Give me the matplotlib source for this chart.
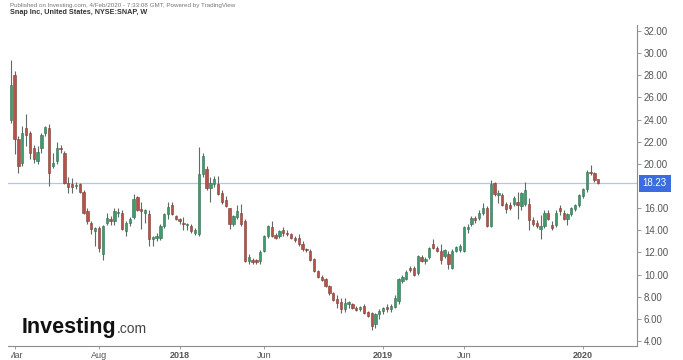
import numpy as np
import pandas as pd
import matplotlib
matplotlib.use('Agg')
import matplotlib.pyplot as plt
import matplotlib.transforms as mtrans

plt.rcParams['font.family'] = ['Liberation Sans', 'DejaVu Sans']

# weekly SNAP candles
weeks = pd.date_range('2017-02-27', periods=154, freq='W-MON')

opens = [24.0, 28.0, 22.2, 20.1, 23.2, 22.8, 21.4, 20.3, 21.4, 22.8,
         23.2, 19.8, 20.3, 21.4, 21.0, 18.3, 18.2, 18.0, 18.2, 17.5,
         15.7, 14.7, 13.9, 14.2, 11.9, 14.7, 15.0, 14.8, 15.6, 15.6,
         13.9, 14.7, 15.2, 17.0, 15.9, 15.6, 15.5, 13.2, 13.3, 13.3,
         14.4, 15.5, 16.3, 15.3, 15.0, 14.7, 14.5, 14.4, 13.8, 13.7,
         19.1, 19.5, 17.8, 18.2, 18.2, 17.4, 16.7, 16.0, 14.6, 15.2,
         15.6, 14.8, 11.2, 11.3, 11.3, 11.2, 12.1, 13.5, 14.3, 13.6,
         13.5, 14.0, 13.8, 13.7, 13.3, 13.3, 12.8, 12.3, 12.1, 11.4,
         10.3, 9.8, 9.6, 9.0, 8.3, 7.8, 7.5, 6.9, 7.3, 7.3,
         7.0, 6.9, 7.2, 6.6, 6.5, 5.5, 6.4, 6.7, 7.1, 6.9,
         7.1, 7.6, 9.4, 9.6, 10.6, 10.6, 10.1, 11.6, 11.2, 11.6,
         12.8, 12.4, 12.1, 11.7, 11.9, 10.6, 12.1, 12.2, 12.1, 14.1,
         14.6, 15.1, 15.1, 15.6, 16.0, 14.4, 18.3, 17.2, 17.2, 16.4,
         16.3, 16.4, 16.6, 16.2, 16.4, 16.4, 14.9, 14.7, 14.1, 14.4,
         15.6, 14.5, 14.5, 16.0, 15.6, 15.0, 15.5, 15.9, 16.3, 17.1,
         17.7, 19.3, 19.2, 18.6]
highs = [29.4, 28.4, 22.5, 23.4, 24.5, 23.0, 21.7, 21.6, 22.8, 23.4,
         23.6, 21.0, 22.0, 21.7, 21.2, 18.8, 18.7, 18.4, 18.3, 17.6,
         16.0, 14.8, 14.3, 14.4, 14.5, 15.6, 15.3, 16.0, 16.0, 15.8,
         14.8, 15.2, 17.3, 17.1, 16.6, 15.9, 15.8, 13.5, 13.8, 14.6,
         15.6, 16.6, 16.6, 15.4, 15.1, 15.2, 14.7, 14.6, 14.2, 21.5,
         21.0, 19.8, 18.8, 18.9, 18.9, 17.6, 17.1, 16.0, 15.4, 16.3,
         16.4, 15.0, 11.9, 11.5, 11.4, 12.2, 13.6, 14.5, 14.8, 13.8,
         14.0, 14.3, 14.0, 13.8, 13.5, 13.7, 13.0, 12.4, 12.3, 11.5,
         10.4, 10.0, 9.7, 9.1, 8.4, 8.2, 7.9, 7.9, 7.6, 7.4,
         7.2, 7.2, 7.3, 6.7, 6.6, 6.5, 6.9, 7.1, 7.3, 7.3,
         8.2, 9.7, 10.0, 10.4, 10.8, 10.8, 11.8, 11.8, 11.6, 12.5,
         13.2, 12.6, 12.8, 12.3, 12.1, 12.3, 12.6, 12.8, 14.4, 14.6,
         15.3, 15.3, 15.8, 16.5, 16.2, 18.5, 18.4, 17.6, 17.4, 16.6,
         16.6, 17.1, 17.5, 17.5, 18.4, 16.9, 15.2, 14.9, 15.4, 15.8,
         15.8, 14.8, 15.8, 16.3, 15.8, 15.6, 16.1, 16.4, 17.3, 17.8,
         19.4, 19.9, 19.3, 18.6]
lows = [23.7, 20.9, 19.2, 19.8, 21.6, 20.4, 20.1, 20.0, 21.0, 22.5,
        18.0, 19.6, 20.0, 21.0, 18.2, 17.4, 17.4, 17.7, 17.4, 15.5,
        14.6, 13.7, 12.6, 12.0, 11.3, 14.5, 14.5, 14.5, 15.2, 14.0,
        13.5, 14.4, 15.0, 15.7, 14.1, 14.7, 12.6, 12.6, 13.0, 13.1,
        14.2, 15.0, 15.4, 14.9, 14.6, 14.0, 14.0, 13.8, 13.6, 13.5,
        18.8, 17.6, 16.6, 17.9, 17.2, 16.4, 16.1, 14.1, 14.4, 15.0,
        14.4, 11.1, 11.0, 11.0, 11.0, 11.0, 12.0, 13.3, 13.4, 13.2,
        13.3, 13.5, 13.5, 13.2, 12.9, 12.6, 12.1, 12.0, 11.2, 10.2,
        9.7, 9.4, 8.9, 8.2, 7.6, 7.0, 6.5, 6.6, 7.0, 6.9,
        6.7, 6.7, 6.4, 6.2, 5.0, 5.2, 6.0, 6.4, 6.6, 6.6,
        7.0, 7.3, 9.2, 9.5, 10.2, 9.9, 10.0, 11.1, 11.0, 11.4,
        12.3, 12.0, 11.0, 11.5, 10.5, 10.5, 12.0, 12.0, 12.0, 13.8,
        14.4, 14.7, 14.9, 15.4, 14.3, 14.3, 17.1, 16.5, 16.2, 15.6,
        15.8, 16.2, 15.0, 15.8, 16.2, 14.0, 14.4, 14.2, 13.2, 14.2,
        14.9, 14.0, 14.3, 15.4, 14.9, 14.5, 15.3, 15.7, 16.1, 16.9,
        17.5, 19.0, 18.4, 18.2]
closes = [27.1, 22.2, 19.8, 22.8, 22.6, 21.0, 20.4, 21.1, 22.6, 23.3,
          19.2, 20.1, 21.4, 21.3, 18.3, 17.9, 17.9, 18.1, 17.5, 15.6,
          14.8, 14.1, 14.2, 12.4, 14.4, 15.1, 14.8, 15.7, 15.65, 14.1,
          14.7, 15.0, 16.8, 15.8, 15.7, 15.8, 13.2, 13.4, 13.5, 14.4,
          15.5, 16.1, 15.5, 15.0, 14.8, 14.6, 14.55, 13.9, 14.0, 19.1,
          20.7, 17.8, 18.3, 18.6, 17.3, 16.6, 16.2, 14.6, 15.3, 15.7,
          14.6, 11.2, 11.6, 11.1, 11.1, 12.0, 13.5, 14.4, 13.5, 13.3,
          13.9, 13.8, 13.7, 13.3, 13.1, 12.8, 12.3, 12.2, 11.3, 10.3,
          9.8, 9.5, 9.0, 8.3, 7.7, 7.4, 6.9, 7.4, 7.5, 7.0,
          6.8, 7.1, 6.5, 6.3, 5.4, 6.4, 6.7, 7.0, 6.9, 7.2,
          7.9, 9.6, 9.8, 10.2, 10.4, 10.0, 11.7, 11.2, 11.4, 12.4,
          12.4, 12.1, 11.3, 12.2, 11.0, 12.1, 12.5, 12.6, 14.3, 14.3,
          15.1, 14.9, 15.6, 16.0, 14.4, 18.2, 17.3, 17.4, 16.3, 15.9,
          16.0, 16.9, 16.3, 17.4, 17.6, 14.9, 14.6, 14.4, 14.4, 15.6,
          15.0, 14.2, 15.6, 15.7, 15.0, 15.5, 16.0, 16.3, 17.2, 17.7,
          19.3, 19.2, 18.5, 18.23]

tick_months = [(2017, 3), (2017, 8), (2018, 1), (2018, 6), (2019, 1), (2019, 6), (2020, 1)]
tick_names = ['Mar', 'Aug', '2018', 'Jun', '2019', 'Jun', '2020']
price_ticks = [4, 6, 8, 10, 12, 14, 16, 20, 22, 24, 26, 28, 30, 32]
last_price = closes[-1]

o = np.array(opens)
h = np.array(highs)
l = np.array(lows)
c = np.array(closes)
x = np.arange(len(c))
up = c >= o

W, H = 683, 360
fig = plt.figure(figsize=(W / 100, H / 100), dpi=100)
ax = fig.add_axes([8 / W, 14 / H, 629 / W, 321 / H])

up_col, dn_col = '#3f9b6c', '#b5534a'
body_cols = np.where(up, up_col, dn_col)
edge_cols = np.where(up, '#2f6e52', '#7f3a33')

ax.axhline(last_price, color='#b8c2f2', lw=0.9, zorder=0)
ax.vlines(x, l, h, color='#5f6b67', lw=0.8, zorder=1)
ax.bar(x, np.maximum(np.abs(c - o), 0.07), bottom=np.minimum(o, c), width=0.6,
       color=body_cols, edgecolor=edge_cols, linewidth=0.4, zorder=2)

ax.set_xlim(-0.7, 163.1)
ax.set_ylim(3.55, 32.54)

# axes styling
for s in ['top', 'left']:
    ax.spines[s].set_visible(False)
for s in ['right', 'bottom']:
    ax.spines[s].set_color('#8c8c8c')
    ax.spines[s].set_linewidth(0.8)

ax.yaxis.tick_right()
ax.set_yticks(price_ticks)
ax.set_yticklabels(['%.2f' % v for v in price_ticks])
ax.tick_params(axis='y', labelsize=7, colors='#8c8c8c', labelcolor='#555555',
               length=3, width=0.6, pad=2)

tick_pos = []
for yr, mo in tick_months:
    idx = [i for i, d in enumerate(weeks) if d.year == yr and d.month == mo][0]
    tick_pos.append(idx)
ax.set_xticks(tick_pos)
ax.set_xticklabels(tick_names)
ax.tick_params(axis='x', labelsize=6.5, colors='#8c8c8c', labelcolor='#555555',
               length=2.5, width=0.6, pad=1)
for lbl in ax.get_xticklabels():
    if lbl.get_text().isdigit():
        lbl.set_fontweight('bold')
first = ax.get_xticklabels()[0]
first.set_clip_on(True)
first.set_clip_box(mtrans.Bbox.from_extents(11, 0, W, H))

# last price tag
ax.annotate('%.2f' % last_price, xy=(1.0, last_price),
            xycoords=('axes fraction', 'data'), xytext=(4, 0),
            textcoords='offset points', ha='left', va='center',
            fontsize=7, color='white',
            bbox=dict(boxstyle='square,pad=0.4', fc='#3b6de0', ec='none'))

# header
fig.text(10 / W, 1 - 5 / H,
         'Published on Investing.com, 4/Feb/2020 - 7:33:08 GMT, Powered by TradingView',
         fontsize=4.5, color='#777777', va='center', ha='left')
fig.text(10 / W, 1 - 13 / H, 'Snap Inc, United States, NYSE:SNAP, W',
         fontsize=5.2, color='#333333', fontweight='bold', va='center', ha='left')

# logo
t1 = fig.text(22 / W, 1 - 333 / H, 'Investing', fontsize=15.5, fontweight='bold',
              color='#111111', va='baseline', ha='left')
fig.canvas.draw()
bb = t1.get_window_extent()
fig.text(bb.x1 / W, 1 - 333 / H, '.com', fontsize=10, color='#444444',
         va='baseline', ha='left')

fig.savefig('out.png', dpi=100)
